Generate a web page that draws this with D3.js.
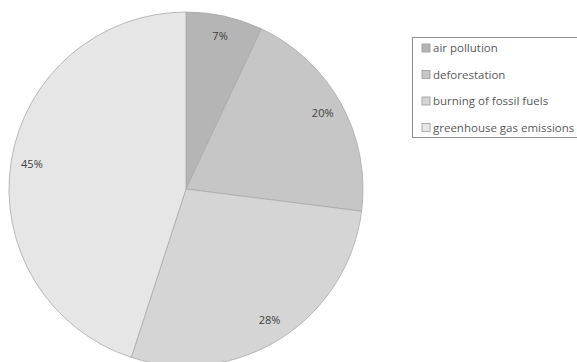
<!DOCTYPE html>
<html>
<head>
<meta charset="utf-8">
<script src="https://cdn.jsdelivr.net/npm/d3@7"></script>
<style>
  body { margin: 0; background: #fff; overflow: hidden; }
  text { font-family: "Open Sans", sans-serif; }
</style>
</head>
<body>
<div id="chart"></div>
<script>
var categories = ["air pollution", "deforestation", "burning of fossil fuels", "greenhouse gas emissions"];
var values = [7, 20, 28, 45];
var sliceColors = ["#b5b5b5", "#c6c6c6", "#d5d5d5", "#e6e6e6"];

var width = 577,
    height = 362,
    cx = 186,
    cy = 189,
    r = 177;

var data = categories.map(function(c, i) {
  return { cat: c, value: values[i] };
});

var color = d3.scaleOrdinal()
  .domain(categories)
  .range(sliceColors);

var svg = d3.select("#chart").append("svg")
  .attr("width", width)
  .attr("height", height);

var pie = d3.pie()
  .sort(null)
  .value(function(d) { return d.value; });

var arc = d3.arc()
  .innerRadius(0)
  .outerRadius(r);

// labels sit near the outer edge, like "inside end"
var labelArc = d3.arc()
  .innerRadius(156)
  .outerRadius(156);

var g = svg.append("g")
  .attr("transform", "translate(" + cx + "," + cy + ")");

g.selectAll("path")
  .data(pie(data))
  .enter()
  .append("path")
  .attr("d", arc)
  .style("fill", function(d) { return color(d.data.cat); })
  .style("stroke", "#a9a9a9")
  .style("stroke-width", 0.8);

g.selectAll("text")
  .data(pie(data))
  .enter()
  .append("text")
  .attr("transform", function(d) { return "translate(" + labelArc.centroid(d) + ")"; })
  .attr("dy", "0.3em")
  .style("text-anchor", "middle")
  .style("font-size", "11px")
  .style("fill", "#404040")
  .text(function(d) { return d.data.value + "%"; });

// legend
var legend = svg.append("g")
  .attr("transform", "translate(412.5,37.5)");

legend.append("rect")
  .attr("width", 180)
  .attr("height", 100)
  .style("fill", "#fff")
  .style("stroke", "#8c8c8c")
  .style("stroke-width", 1);

var item = legend.selectAll(".item")
  .data(categories)
  .enter()
  .append("g")
  .attr("class", "item")
  .attr("transform", function(d, i) { return "translate(0," + (10.5 + i * 26.5) + ")"; });

item.append("rect")
  .attr("x", 9.5)
  .attr("y", -4)
  .attr("width", 8)
  .attr("height", 8)
  .style("fill", function(d) { return color(d); })
  .style("stroke", "#999")
  .style("stroke-width", 0.8);

item.append("text")
  .attr("x", 20.5)
  .attr("dy", "0.35em")
  .style("font-size", "11.5px")
  .style("fill", "#595959")
  .text(function(d) { return d; });
</script>
</body>
</html>
